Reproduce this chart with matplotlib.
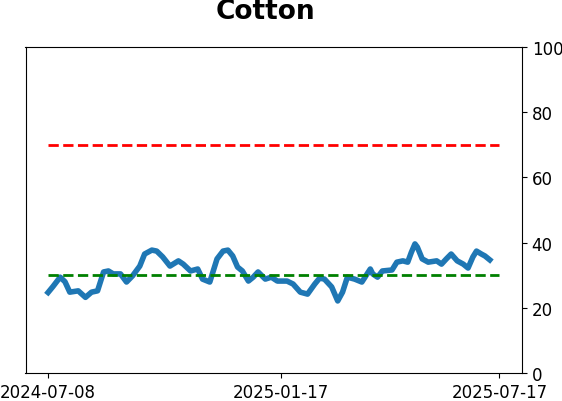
import matplotlib
matplotlib.use("Agg")
import matplotlib.pyplot as plt
import pandas as pd

dates = ["2024-07-08", "2024-07-12", "2024-07-18", "2024-07-22", "2024-07-26",
         "2024-08-02", "2024-08-08", "2024-08-13", "2024-08-18", "2024-08-23",
         "2024-08-27", "2024-08-31", "2024-09-06", "2024-09-11", "2024-09-16",
         "2024-09-22", "2024-09-26", "2024-10-02", "2024-10-06", "2024-10-11",
         "2024-10-17", "2024-10-24", "2024-10-28", "2024-11-03", "2024-11-09",
         "2024-11-13", "2024-11-19", "2024-11-25", "2024-11-30", "2024-12-04",
         "2024-12-08", "2024-12-12", "2024-12-16", "2024-12-21", "2024-12-25",
         "2024-12-29", "2025-01-04", "2025-01-09", "2025-01-14", "2025-01-22",
         "2025-01-27", "2025-02-02", "2025-02-08", "2025-02-14", "2025-02-18",
         "2025-02-22", "2025-02-28", "2025-03-05", "2025-03-09", "2025-03-13",
         "2025-03-19", "2025-03-25", "2025-04-01", "2025-04-03", "2025-04-07",
         "2025-04-11", "2025-04-19", "2025-04-23", "2025-04-28", "2025-05-02",
         "2025-05-05", "2025-05-08", "2025-05-10", "2025-05-14", "2025-05-19",
         "2025-05-26", "2025-05-30", "2025-06-03", "2025-06-07", "2025-06-12",
         "2025-06-17", "2025-06-21", "2025-06-25", "2025-06-28", "2025-07-02",
         "2025-07-05", "2025-07-09"]
values = [24.7, 26.5, 29.4, 28.0, 24.8,
          25.2, 23.2, 24.8, 25.2, 31.0,
          31.3, 30.4, 30.4, 27.9, 29.8,
          32.8, 36.5, 37.7, 37.4, 35.6,
          32.8, 34.4, 33.4, 31.3, 31.9,
          28.8, 27.9, 35.0, 37.4, 37.7,
          35.9, 32.5, 31.3, 28.2, 29.4,
          31.0, 28.8, 29.4, 28.2, 28.2,
          27.3, 24.8, 24.2, 27.3, 29.1,
          28.8, 26.4, 22.1, 24.8, 29.4,
          28.8, 27.9, 31.9, 30.4, 29.4,
          31.3, 31.6, 34.0, 34.4, 34.0,
          37.0, 39.6, 38.6, 35.0, 34.0,
          34.4, 33.4, 35.0, 36.5, 34.4,
          33.4, 32.2, 35.6, 37.4, 36.5,
          35.9, 34.7]

range_dates = ["2024-07-08", "2025-07-17"]
upper_level = 70
lower_level = 30
tick_dates = ["2024-07-08", "2025-01-17", "2025-07-17"]
title = "Cotton"

x = pd.to_datetime(dates)
xr = pd.to_datetime(range_dates)
xt = pd.to_datetime(tick_dates)

fig = plt.figure(figsize=(5.62, 4.02), dpi=100)
ax = fig.add_axes([25.5 / 562, 28 / 402, 496.5 / 562, 326 / 402])

ax.plot(x, values, color="#1f77b4", linewidth=4)
ax.plot(xr, [upper_level, upper_level], color="red", linestyle="--", linewidth=2)
ax.plot(xr, [lower_level, lower_level], color="green", linestyle="--", linewidth=2)

ax.set_ylim(0, 100)
ax.yaxis.tick_right()
ax.set_yticks([0, 20, 40, 60, 80, 100])
ax.set_xticks(xt)
ax.set_xticklabels(tick_dates)
ax.tick_params(axis="both", labelsize=12)
ax.set_title(title, fontsize=19, fontweight="bold", pad=21, x=0.483)

fig.savefig("out.png", dpi=100)
